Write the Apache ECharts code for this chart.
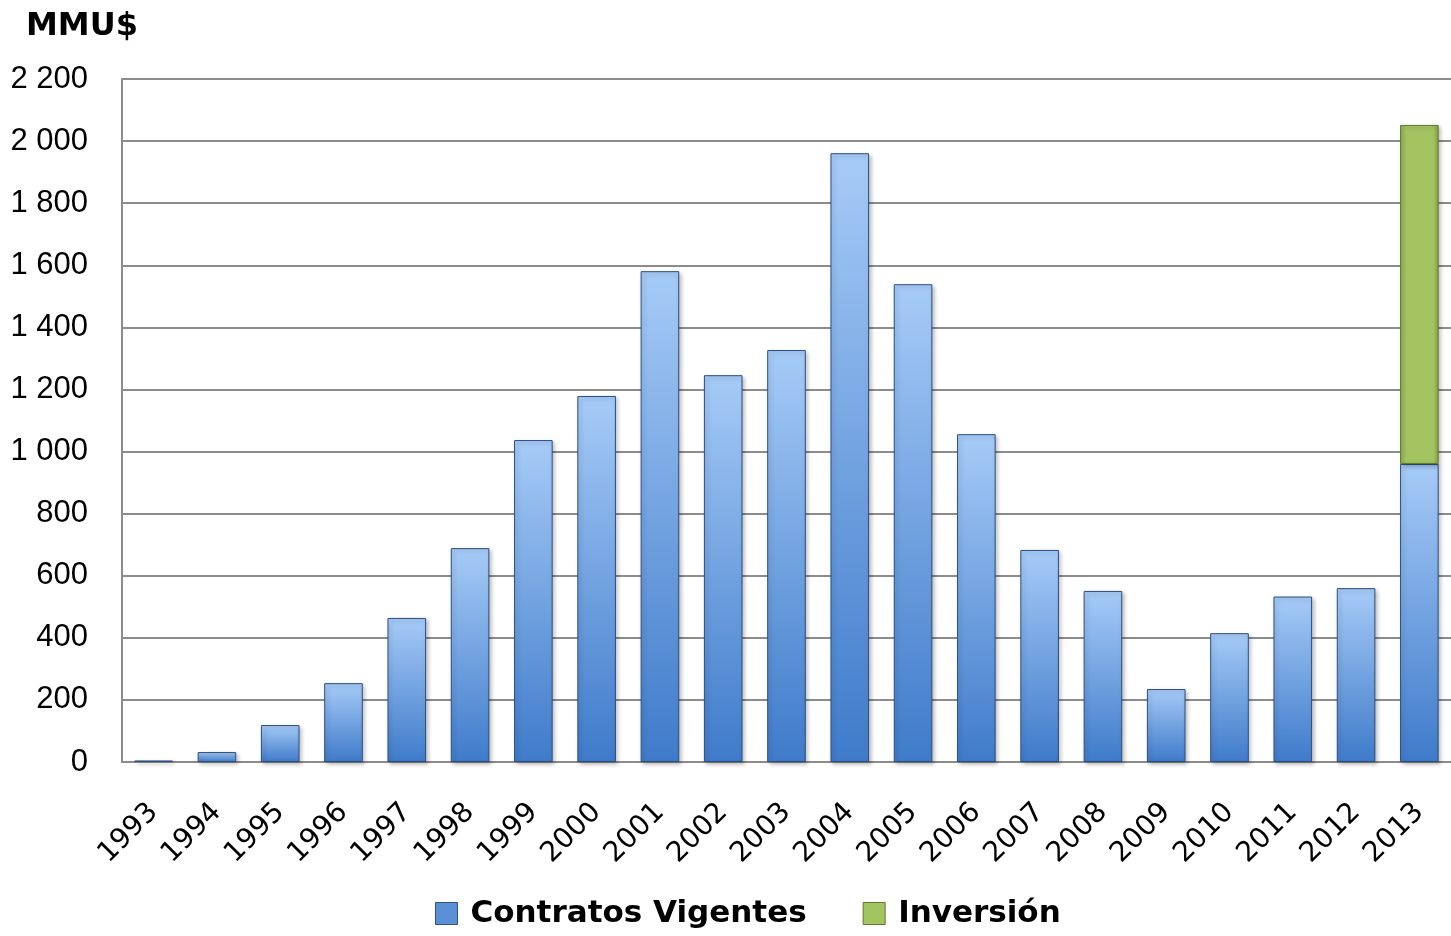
<!DOCTYPE html>
<html><head><meta charset="utf-8">
<script src="https://cdn.jsdelivr.net/npm/echarts@6/dist/echarts.min.js"></script>
<style>html,body{margin:0;padding:0;background:#fff}#c{width:1451px;height:936px}</style>
</head><body><div id="c"></div>
<script>
const years = ['1993','1994','1995','1996','1997','1998','1999','2000','2001','2002','2003','2004','2005','2006','2007','2008','2009','2010','2011','2012','2013'];
const contratos = [5,32,119,254,464,689,1037,1179,1581,1246,1327,1961,1539,1056,683,551,235,415,533,560,960];
const inversion = [null,null,null,null,null,null,null,null,null,null,null,null,null,null,null,null,null,null,null,null,1092];
const yTicks = [0,200,400,600,800,1000,1200,1400,1600,1800,2000,2200];

const blueGrad = new echarts.graphic.LinearGradient(0,0,0,1,[{offset:0,color:'#a6cbf7'},{offset:1,color:'#3f7bca'}]);
const greenGrad = new echarts.graphic.LinearGradient(1,0,0,0,[{offset:0,color:'#86a34a'},{offset:0.15,color:'#a4c462'},{offset:0.85,color:'#a4c462'},{offset:1,color:'#8fae52'}]);

const chart = echarts.init(document.getElementById('c'));
chart.setOption({
  animation:false,
  title:{text:'MMU$',left:21,top:6,textStyle:{fontFamily:'DejaVu Sans',fontWeight:'bold',fontSize:32,color:'#000'}},
  grid:{left:122,right:-1,top:79,bottom:174,containLabel:false},
  legend:{bottom:2,left:430,itemWidth:22,itemHeight:22,itemGap:56,
    textStyle:{fontFamily:'DejaVu Sans',fontWeight:'bold',fontSize:31,color:'#000',padding:[0,0,0,8]},
    data:[{name:'Contratos Vigentes',icon:'rect',itemStyle:{color:'#5b8fd6',borderColor:'#2f5486',borderWidth:1}},{name:'Inversión',icon:'rect',itemStyle:{color:'#a4c462',borderColor:'#5f7a2c',borderWidth:1}}]},
  xAxis:{type:'category',data:years,
    axisLine:{lineStyle:{color:'#8c8c8c',width:2}},axisTick:{show:false},
    axisLabel:{rotate:45,interval:0,margin:46,fontFamily:'DejaVu Sans',fontSize:28,color:'#000'}},
  yAxis:{type:'value',min:0,max:2200,interval:200,
    axisLine:{show:true,lineStyle:{color:'#8c8c8c',width:2}},axisTick:{show:false},
    splitLine:{lineStyle:{color:'#8c8c8c',width:2}},
    axisLabel:{margin:34,fontFamily:'Liberation Sans',fontSize:31,color:'#000',
      formatter:v=>yTicks.includes(v)?String(v).replace(/\B(?=(\d{3})+(?!\d))/g,' '):''}},
  series:[
    {name:'Contratos Vigentes',type:'bar',stack:'a',data:contratos,barWidth:'61%',
      itemStyle:{color:blueGrad,borderColor:'#2c4f80',borderWidth:1,shadowColor:'rgba(0,0,0,0.25)',shadowBlur:4,shadowOffsetX:2,shadowOffsetY:2}},
    {name:'Inversión',type:'bar',stack:'a',data:inversion,barWidth:'61%',
      itemStyle:{color:greenGrad,borderColor:'#5f7a2c',borderWidth:1,shadowColor:'rgba(0,0,0,0.25)',shadowBlur:4,shadowOffsetX:2,shadowOffsetY:2}}
  ]
});
</script></body></html>
